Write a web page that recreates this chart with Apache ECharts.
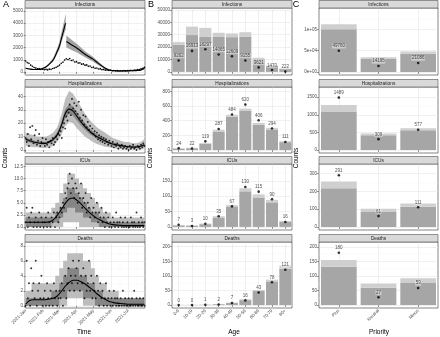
<!DOCTYPE html>
<html>
<head>
<meta charset="utf-8">
<script src="https://cdn.jsdelivr.net/npm/echarts@6/dist/echarts.min.js"></script>
<style>
  html, body { margin: 0; padding: 0; background: #fff; }
  #chart { width: 440px; height: 337px; }
</style>
</head>
<body>
<div id="chart"></div>
<script>
// ---- time axis (days since 2021-01-01) ----
const monthStarts = [0, 31, 59, 90, 120, 151, 181];
const monthLabels = ['2021-Jan', '2021-Feb', '2021-Mar', '2021-Apr', '2021-May', '2021-Jun', '2021-Jul'];
const monthMids = [15.5, 45, 74.5, 105, 135.5, 166, 196.5];

// ---- infections (A) ----
const infDays1 = [0, 7, 14, 21, 28, 35, 42, 49, 56, 60, 63, 66, 68, 70, 71];
const infLine1 = [300, 240, 200, 200, 250, 380, 650, 1000, 1700, 2150, 2700, 3200, 3550, 3900, 4000];
const infLo1 = [250, 200, 170, 170, 215, 330, 570, 880, 1500, 1880, 2350, 2800, 3100, 3400, 3450];
const infHi1 = [360, 290, 240, 240, 295, 450, 760, 1160, 1950, 2480, 3150, 3750, 4150, 4600, 4750];
const infDays2 = [72, 77, 84, 91, 98, 105, 112, 119, 126, 133, 140, 147, 154, 161, 168, 175, 182, 189, 196, 203, 210];
const infLine2 = [2500, 2350, 2150, 1950, 1700, 1450, 1250, 1050, 800, 550, 330, 180, 110, 90, 80, 80, 90, 100, 110, 150, 300];
const infLo2 = [2000, 1900, 1750, 1600, 1400, 1200, 1020, 850, 640, 430, 250, 130, 75, 60, 55, 55, 60, 65, 75, 100, 200];
const infHi2 = [3000, 2800, 2550, 2300, 2000, 1700, 1480, 1250, 960, 670, 410, 230, 150, 120, 110, 110, 120, 135, 150, 200, 400];
// observed, every 3 days
const infDots = [900, 760, 720, 560, 470, 360, 320, 260, 270, 200, 230, 190, 210, 170, 230, 200, 280, 330, 380, 460,
  560, 720, 800, 980, 1080, 1020, 1110, 940, 980, 820, 860, 730, 760, 640, 660, 560, 580, 470, 490, 370,
  400, 300, 320, 240, 270, 190, 210, 150, 170, 120, 140, 100, 120, 90, 110, 80, 100, 90, 110, 90,
  120, 110, 140, 120, 160, 150, 190, 200, 260, 300, 380];

// ---- weekly model curves (A), days 0,7,...,210 ----
const hospLine = [8, 7, 6, 5.5, 5, 5, 6, 8, 11.5, 18, 27, 30.5, 29, 25, 21, 17.5, 14.5, 12, 10, 8.5, 7, 5.5, 4.5, 4, 3.3, 2.8, 2.5, 2.3, 2.3, 2.8, 4];
const hospOutHi = [13, 12, 11, 10, 10, 10, 11, 13, 17, 26, 38, 44, 42, 37, 32, 27, 23, 20, 17, 15, 13, 11, 9, 8, 7, 6, 6, 5, 5, 6, 8];
const hospOutLo = [3, 2.5, 2, 2, 1.5, 1.5, 2, 3, 6, 11, 18, 21, 20, 16, 13, 10, 8, 6, 4.5, 3.5, 2.5, 2, 1.5, 1, 0.8, 0.5, 0.5, 0.5, 0.5, 0.5, 1];
const hospInHi = [9.5, 8.2, 7.2, 6.6, 6, 6, 7.2, 9.4, 13.2, 20.5, 30.5, 34, 32.5, 28.2, 23.8, 20, 16.7, 13.9, 11.7, 10, 8.3, 6.6, 5.5, 4.9, 4.1, 3.5, 3.2, 3, 3, 3.6, 5];
const hospInLo = [6.5, 5.8, 4.9, 4.5, 4.1, 4.1, 4.9, 6.6, 9.8, 15.6, 23.6, 27, 25.6, 21.9, 18.3, 15.1, 12.4, 10.2, 8.4, 7.1, 5.8, 4.5, 3.6, 3.2, 2.6, 2.2, 1.9, 1.7, 1.7, 2.1, 3.1];

const icuLine = [1, 1, 1, 1, 1, 1, 1.1, 1.5, 2.4, 3.6, 4.9, 5.8, 6, 5.5, 4.8, 3.9, 3.1, 2.4, 1.8, 1.4, 1, 0.7, 0.5, 0.4, 0.35, 0.3, 0.3, 0.3, 0.3, 0.3, 0.3];
const icuOutHi = [3, 3, 3, 3, 3, 3, 3, 4, 5, 7, 9, 11, 11, 10, 9, 8, 7, 6, 5, 4, 3, 3, 2, 2, 2, 2, 2, 2, 2, 2, 2];
const icuOutLo = [0, 0, 0, 0, 0, 0, 0, 0, 0, 0, 1, 1, 1, 1, 0, 0, 0, 0, 0, 0, 0, 0, 0, 0, 0, 0, 0, 0, 0, 0, 0];
const icuInHi = [2, 2, 2, 2, 2, 2, 2, 2, 3, 4, 6, 8, 8, 7, 6, 5, 4, 3, 3, 2, 2, 1, 1, 1, 1, 1, 1, 1, 1, 1, 1];
const icuInLo = [0, 0, 0, 0, 0, 0, 0, 1, 1, 2, 3, 4, 4, 3, 3, 2, 2, 1, 1, 0, 0, 0, 0, 0, 0, 0, 0, 0, 0, 0, 0];

const deathLine = [0.2, 0.7, 0.8, 0.8, 0.8, 0.8, 0.9, 1.0, 1.3, 1.9, 2.6, 3.1, 3.4, 3.4, 3.2, 2.9, 2.5, 2.1, 1.6, 1.2, 0.9, 0.6, 0.45, 0.35, 0.3, 0.25, 0.2, 0.2, 0.2, 0.2, 0.2];
const deathOutHi = [2, 2, 3, 3, 3, 3, 3, 3, 4, 5, 6, 7, 7, 7, 7, 6, 6, 5, 4, 3, 3, 2, 2, 2, 1, 1, 1, 1, 1, 1, 1];
const deathOutLo = [0, 0, 0, 0, 0, 0, 0, 0, 0, 0, 0, 1, 1, 1, 1, 0, 0, 0, 0, 0, 0, 0, 0, 0, 0, 0, 0, 0, 0, 0, 0];
const deathInHi = [1, 1, 1, 1, 1, 1, 1, 2, 2, 3, 4, 5, 5, 5, 4, 4, 3, 3, 2, 2, 1, 1, 1, 1, 1, 1, 1, 1, 1, 1, 1];
const deathInLo = [0, 0, 0, 0, 0, 0, 0, 0, 0, 1, 1, 2, 2, 2, 2, 1, 1, 1, 0, 0, 0, 0, 0, 0, 0, 0, 0, 0, 0, 0, 0];

// ---- observed daily counts (A), every 2 days ----
const hospDots = [9, 6, 12, 3, 17, 8, 18, 5, 11, 15, 4, 7, 12, 3, 6, 9,
  5, 3, 8, 4, 6, 2, 7, 5, 9, 4, 6, 10, 8, 12,
  11, 14, 9, 17, 20, 16, 25, 22, 28, 34, 26, 38, 31, 35, 29,
  33, 27, 36, 24, 30, 22, 26, 19, 25, 17, 21, 15, 18, 13, 16,
  12, 14, 10, 13, 8, 11, 7, 10, 6, 9, 5, 8, 6, 4, 7,
  5, 3, 6, 2, 4, 3, 5, 1, 3, 2, 4, 1, 2, 3, 1,
  2, 0, 3, 1, 2, 4, 1, 2, 0, 3, 2, 1, 4, 2, 5, 3];
const icuDots = [1, 4, 0, 2, 1, 3, 4, 0, 1, 2, 0, 1, 3, 0, 2, 1,
  0, 1, 2, 0, 3, 1, 0, 2, 1, 3, 0, 2, 3, 1,
  2, 4, 3, 5, 4, 7, 6, 8, 9, 11, 7, 10, 8, 6, 9,
  8, 5, 7, 6, 9, 4, 6, 5, 7, 3, 5, 4, 2, 6, 3,
  4, 2, 3, 5, 1, 3, 2, 4, 1, 2, 0, 3, 1, 2, 0,
  1, 0, 2, 1, 0, 3, 1, 0, 1, 2, 0, 1, 0, 2, 0,
  1, 0, 0, 2, 1, 0, 1, 0, 3, 0, 1, 0, 2, 1, 0, 1];
const deathDots = [0, 6, 1, 3, 0, 5, 2, 3, 1, 6, 0, 2, 3, 1, 4, 0,
  1, 2, 0, 3, 1, 0, 2, 1, 0, 3, 1, 2, 0, 1,
  2, 1, 3, 0, 2, 4, 1, 3, 5, 2, 4, 3, 6, 2, 4,
  5, 3, 6, 2, 4, 3, 5, 1, 4, 2, 3, 6, 2, 4, 1,
  3, 2, 1, 4, 2, 0, 3, 1, 2, 0, 1, 3, 0, 1, 2,
  0, 1, 0, 2, 1, 0, 1, 0, 0, 1, 0, 2, 0, 1, 0,
  0, 1, 0, 0, 1, 0, 2, 0, 1, 0, 0, 1, 0, 0, 1, 0];

// ---- by age (B) ----
const ageCats = ['0-9', '10-19', '20-29', '30-39', '40-49', '50-59', '60-69', '70-79', '80+'];
const ageInfMid = [22000, 29700, 28500, 28500, 28000, 28500, 10000, 4900, 2300];
const ageInfHi = [24000, 36500, 35500, 31500, 31000, 32000, 11400, 5400, 2800];
const ageInfObs = [9202, 16913, 18297, 14065, 12609, 9155, 3621, 1470, 222];
const ageHospMid = [20, 25, 86, 247, 455, 540, 345, 280, 108];
const ageHospHi = [26, 31, 96, 278, 480, 565, 370, 302, 120];
const ageHospObs = [24, 22, 119, 287, 484, 620, 406, 294, 111];
const ageIcuMid = [5, 4, 9, 31, 65, 116, 96, 80, 16];
const ageIcuHi = [6.5, 5.5, 11, 35, 71, 126, 106, 88, 19];
const ageIcuObs = [7, 3, 10, 35, 67, 130, 115, 90, 16];
const ageDeathMid = [0.5, 0.5, 1, 3, 7, 17, 48, 81, 124];
const ageDeathHi = [1, 1, 1.8, 3.8, 8.5, 20, 52, 87, 135];
const ageDeathObs = [0, 0, 1, 2, 7, 16, 43, 78, 121];

// ---- by priority (C) ----
const prioCats = ['Plus', 'Neutral', 'Minus'];
const prioInfMid = [100000, 31800, 43000];
const prioInfHi = [112000, 34500, 48000];
const prioInfObs = [49760, 14195, 21086];
const prioHospMid = [1080, 420, 560];
const prioHospHi = [1280, 470, 620];
const prioHospObs = [1489, 309, 577];
const prioIcuMid = [218, 84, 113];
const prioIcuHi = [255, 102, 132];
const prioIcuObs = [291, 61, 111];
const prioDeathMid = [132, 60, 76];
const prioDeathHi = [155, 74, 92];
const prioDeathObs = [180, 27, 59];

// ---- y tick labels ----
const ticksInfA = [0, 1000, 2000, 3000, 4000, 5000];
const ticksHospA = [0, 10, 20, 30, 40];
const ticksIcuA = [0, 2.5, 5, 7.5, 10, 12.5];
const ticksDeathA = [0, 2, 4, 6, 8];
const ticksInfB = [0, 10000, 20000, 30000, 40000, 50000];
const ticksHospB = [0, 200, 400, 600, 800];
const ticksIcuB = [0, 50, 100, 150];
const ticksDeathB = [0, 50, 100, 150, 200];
const ticksInfC = [0, 50000, 100000];
const labelsInfC = ['0e+00', '5e+04', '1e+05'];
const ticksHospC = [0, 500, 1000, 1500];
const ticksIcuC = [0, 100, 200, 300];
const ticksDeathC = [0, 50, 100, 150, 200];

const stripNames = ['Infections', 'Hospitalizations', 'ICUs', 'Deaths'];

// layout
const colLeft = [25, 172, 319];
const colWidth = [120, 120, 119];
const rowTop = [8, 87, 164, 242];
const rowHeight = [67, 66, 66, 66];
const font = 'Liberation Sans, Arial, sans-serif';
const tickColor = '#4d4d4d';

const grids = [], xAxes = [], yAxes = [], series = [], graphics = [];

function mids(t) {
  const step = t[1] - t[0];
  return t.map(v => v + step / 2);
}

function addPanel(col, row, ycfg) {
  const gi = grids.length;
  const left = colLeft[col], top = rowTop[row], w = colWidth[col], h = rowHeight[row];
  grids.push({ left: left, top: top, width: w, height: h, show: true,
    borderColor: '#333', borderWidth: 0.6, backgroundColor: 'transparent' });
  const bottom = row === 3;
  const xi = xAxes.length;
  if (col === 0) {
    xAxes.push({ type: 'value', gridIndex: gi, min: -1, max: 211,
      axisLine: { show: false },
      axisTick: { show: true, customValues: monthStarts, length: 2, lineStyle: { color: '#333', width: 0.5 } },
      axisLabel: { show: bottom, customValues: monthStarts, rotate: 45, fontSize: 4.5, color: tickColor, margin: 2, fontFamily: font,
        formatter: v => monthLabels[monthStarts.indexOf(v)] },
      splitLine: { show: true, lineStyle: { color: '#e6e6e6', width: 0.6 } } });
    xAxes.push({ type: 'value', gridIndex: gi, min: -1, max: 211, position: 'bottom',
      axisLine: { show: false }, axisTick: { show: false, customValues: monthMids }, axisLabel: { show: false },
      splitLine: { show: true, lineStyle: { color: '#f3f3f3', width: 0.4 } } });
  } else {
    const cats = col === 1 ? ageCats : prioCats;
    xAxes.push({ type: 'category', gridIndex: gi, data: cats,
      axisLine: { show: false },
      axisTick: { show: true, alignWithLabel: true, length: 2, lineStyle: { color: '#333', width: 0.5 } },
      axisLabel: { show: bottom, interval: 0, rotate: 45, fontSize: 4.5, color: tickColor, margin: 2, fontFamily: font },
      splitLine: { show: true, alignWithLabel: true, interval: 0, lineStyle: { color: '#e6e6e6', width: 0.6 } } });
  }
  const yi = yAxes.length;
  yAxes.push({ type: 'value', gridIndex: gi, min: ycfg.min, max: ycfg.max,
    axisLine: { show: false },
    axisTick: { show: true, customValues: ycfg.ticks, length: 2, lineStyle: { color: '#333', width: 0.5 } },
    axisLabel: { customValues: ycfg.ticks, fontSize: 4.5, color: tickColor, margin: 2, fontFamily: font,
      formatter: v => ycfg.labels ? ycfg.labels[ycfg.ticks.indexOf(v)] : (ycfg.fixed ? v.toFixed(1) : String(v)) },
    splitLine: { show: true, lineStyle: { color: '#e6e6e6', width: 0.6 } } });
  yAxes.push({ type: 'value', gridIndex: gi, min: ycfg.min, max: ycfg.max, position: 'left',
    axisLine: { show: false }, axisTick: { show: false, customValues: mids(ycfg.ticks) }, axisLabel: { show: false },
    splitLine: { show: true, lineStyle: { color: '#f3f3f3', width: 0.4 } } });

  // facet strip
  graphics.push({ type: 'rect', shape: { x: left, y: top - 7.5, width: w, height: 7.5 },
    style: { fill: '#d9d9d9', stroke: '#333', lineWidth: 0.5 }, z: 10 });
  graphics.push({ type: 'text', x: left + w / 2, y: top - 3.6, z: 11,
    style: { text: stripNames[row], fontSize: 4.8, fill: '#1a1a1a', fontFamily: font, align: 'center', verticalAlign: 'middle' } });
  return { xi: xi, yi: yi, gi: gi };
}

// ribbon drawn as one polygon through the axis scales
function band(p, days, lo, hi, color, step) {
  series.push({
    type: 'custom', xAxisIndex: p.xi, yAxisIndex: p.yi, silent: true, clip: true,
    data: days.map((d, i) => [d, lo[i], hi[i]]),
    encode: { x: 0, y: [1, 2] },
    renderItem: function (params, api) {
      if (params.dataIndex !== 0) return null;
      const n = days.length, top = [], bot = [];
      for (let i = 0; i < n; i++) {
        if (step) {
          const x0 = i === 0 ? days[0] : (days[i - 1] + days[i]) / 2;
          const x1 = i === n - 1 ? days[n - 1] : (days[i] + days[i + 1]) / 2;
          top.push(api.coord([x0, hi[i]]), api.coord([x1, hi[i]]));
          bot.push(api.coord([x0, lo[i]]), api.coord([x1, lo[i]]));
        } else {
          top.push(api.coord([days[i], hi[i]]));
          bot.push(api.coord([days[i], lo[i]]));
        }
      }
      return { type: 'polygon', shape: { points: top.concat(bot.reverse()) }, style: { fill: color } };
    }
  });
}

function curve(p, days, vals) {
  series.push({ type: 'line', xAxisIndex: p.xi, yAxisIndex: p.yi, silent: true,
    data: days.map((d, i) => [d, vals[i]]), symbol: 'none', smooth: 0.3,
    lineStyle: { color: '#000', width: 1.1 }, z: 4 });
}

function dots(p, vals, every) {
  series.push({ type: 'scatter', xAxisIndex: p.xi, yAxisIndex: p.yi, silent: true,
    data: vals.map((v, i) => [i * every, v]), symbolSize: 1.9,
    itemStyle: { color: '#000' }, z: 5 });
}

const weekDays = hospLine.map((_, i) => i * 7);

// ---- column A ----
let p = addPanel(0, 0, { min: -250, max: 5250, ticks: ticksInfA });
band(p, infDays1, infLo1, infHi1, '#a3a3a3');
band(p, infDays2, infLo2, infHi2, '#a3a3a3');
curve(p, infDays1, infLine1);
curve(p, infDays2, infLine2);
series.push({ type: 'line', xAxisIndex: p.xi, yAxisIndex: p.yi, silent: true,
  data: infDots.map((v, i) => [i * 3, v]), symbol: 'circle', symbolSize: 1.6,
  itemStyle: { color: '#000' }, lineStyle: { color: '#000', width: 0.6, type: 'dotted' }, z: 5 });

p = addPanel(0, 1, { min: -2.2, max: 47, ticks: ticksHospA });
band(p, weekDays, hospOutLo, hospOutHi, '#bdbdbd');
band(p, weekDays, hospInLo, hospInHi, '#858585');
curve(p, weekDays, hospLine);
dots(p, hospDots, 2);

p = addPanel(0, 2, { min: -0.6, max: 13, ticks: ticksIcuA, fixed: true });
band(p, weekDays, icuOutLo, icuOutHi, '#bdbdbd', true);
band(p, weekDays, icuInLo, icuInHi, '#858585', true);
curve(p, weekDays, icuLine);
dots(p, icuDots, 2);

p = addPanel(0, 3, { min: -0.3, max: 8.5, ticks: ticksDeathA });
band(p, weekDays, deathOutLo, deathOutHi, '#bdbdbd', true);
band(p, weekDays, deathInLo, deathInHi, '#858585', true);
curve(p, weekDays, deathLine);
dots(p, deathDots, 2);

// ---- bars ----
function bars(p, mid, hi, obs) {
  const key = 'bar' + p.gi;
  series.push({ type: 'bar', xAxisIndex: p.xi, yAxisIndex: p.yi, stack: key, silent: true,
    data: mid, itemStyle: { color: '#a6a6a6' }, barCategoryGap: '10%' });
  series.push({ type: 'bar', xAxisIndex: p.xi, yAxisIndex: p.yi, stack: key, silent: true,
    data: hi.map((h, i) => h - mid[i]), itemStyle: { color: '#cfcfcf' }, barCategoryGap: '10%' });
  series.push({ type: 'scatter', xAxisIndex: p.xi, yAxisIndex: p.yi, silent: true,
    data: obs, symbolSize: 2.6, itemStyle: { color: '#000' }, z: 5,
    label: { show: true, position: 'top', distance: 1, formatter: q => String(q.value),
      fontSize: 4.5, color: '#222', fontFamily: font, backgroundColor: 'rgba(255,255,255,0.55)', padding: [0, 0.5] } });
}

p = addPanel(1, 0, { min: -2500, max: 51500, ticks: ticksInfB });
bars(p, ageInfMid, ageInfHi, ageInfObs);
p = addPanel(1, 1, { min: -40, max: 860, ticks: ticksHospB });
bars(p, ageHospMid, ageHospHi, ageHospObs);
p = addPanel(1, 2, { min: -10, max: 205, ticks: ticksIcuB });
bars(p, ageIcuMid, ageIcuHi, ageIcuObs);
p = addPanel(1, 3, { min: -10, max: 216, ticks: ticksDeathB });
bars(p, ageDeathMid, ageDeathHi, ageDeathObs);

p = addPanel(2, 0, { min: -7000, max: 150000, ticks: ticksInfC, labels: labelsInfC });
bars(p, prioInfMid, prioInfHi, prioInfObs);
p = addPanel(2, 1, { min: -85, max: 1790, ticks: ticksHospC });
bars(p, prioHospMid, prioHospHi, prioHospObs);
p = addPanel(2, 2, { min: -17, max: 354, ticks: ticksIcuC });
bars(p, prioIcuMid, prioIcuHi, prioIcuObs);
p = addPanel(2, 3, { min: -10, max: 217, ticks: ticksDeathC });
bars(p, prioDeathMid, prioDeathHi, prioDeathObs);

// ---- titles / letters ----
function txt(x, y, s, size, rot) {
  graphics.push({ type: 'text', x: x, y: y, rotation: rot || 0, z: 12,
    style: { text: s, fontSize: size, fill: '#000', fontFamily: font, align: 'center', verticalAlign: 'middle' } });
}
txt(6, 5, 'A', 9);
txt(151, 5, 'B', 9);
txt(296, 5, 'C', 9);
txt(84, 332, 'Time', 6.5);
txt(234, 332, 'Age', 6.5);
txt(379, 332, 'Priority', 6.5);
txt(5, 158, 'Counts', 6.5, Math.PI / 2);
txt(150, 158, 'Counts', 6.5, Math.PI / 2);
txt(296, 158, 'Counts', 6.5, Math.PI / 2);

const chart = echarts.init(document.getElementById('chart'));
chart.setOption({
  animation: false,
  backgroundColor: '#fff',
  grid: grids,
  xAxis: xAxes,
  yAxis: yAxes,
  series: series,
  graphic: graphics
});
</script>
</body>
</html>
